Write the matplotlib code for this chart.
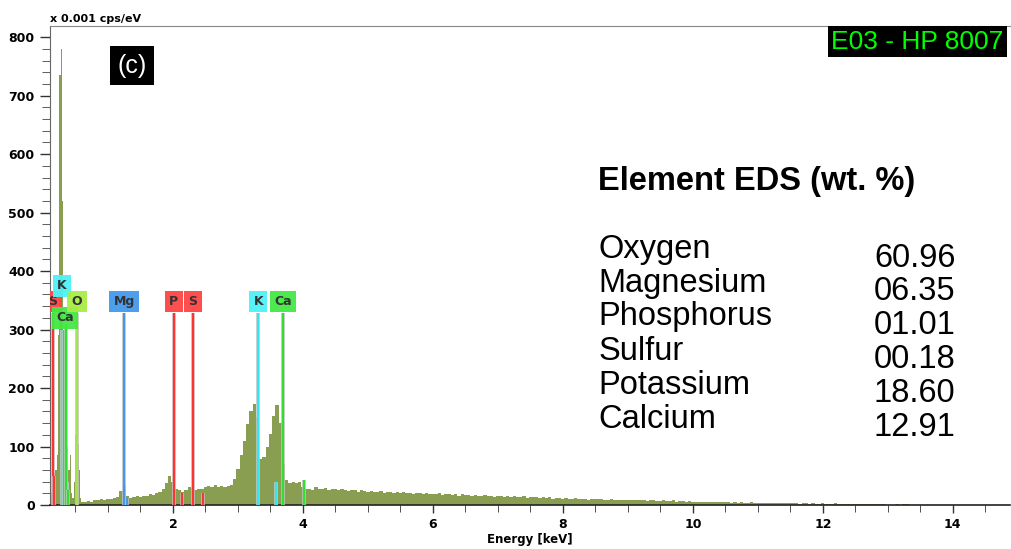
import numpy as np
import matplotlib
matplotlib.use("Agg")
import matplotlib.pyplot as plt
import matplotlib.patheffects as pe

# spectrum below 0.6 keV (0.02 keV channels)
low_energy = [0.10, 0.12, 0.14, 0.16, 0.18, 0.20, 0.22, 0.24, 0.26, 0.28,
              0.30, 0.32, 0.34, 0.36, 0.38, 0.40, 0.42, 0.44, 0.46, 0.48,
              0.50, 0.52, 0.54, 0.56, 0.58]
low_counts = [330, 330, 20, 50, 55, 60, 85, 290, 735, 780,
              520, 300, 200, 165, 100, 60, 85, 20, 12, 40,
              120, 154, 105, 60, 12]

# spectrum from 0.60 keV to 13.50 keV, 0.05 keV channels
main_start = 0.60
main_step = 0.05
main_counts = [
    5, 6, 7, 6, 9, 8, 10, 9, 11,
    10, 12, 13, 24, 34, 16, 12, 13, 15, 14,
    16, 15, 18, 17, 20, 22, 28, 38, 50, 40,
    27, 25, 23, 26, 30, 29, 25, 27, 28, 30,
    32, 30, 34, 31, 33, 30, 32, 35, 44, 62,
    85, 110, 138, 160, 172, 150, 78, 82, 100, 122,
    152, 171, 140, 70, 42, 38, 40, 37, 39, 30,
    28, 27, 26, 30, 28, 27, 29, 26, 28, 27,
    25, 27, 26, 24, 26, 25, 23, 25, 24, 22,
    24, 23, 22, 24, 21, 23, 22, 20, 22, 21,
    22, 20, 21, 19, 21, 20, 19, 20, 18, 19,
    18, 20, 17, 19, 18, 17, 19, 16, 18, 17,
    17, 15, 17, 16, 15, 17, 15, 16, 14, 16,
    15, 14, 16, 13, 15, 14, 13, 15, 12, 14,
    13, 14, 12, 13, 12, 13, 11, 12, 12, 11,
    12, 10, 11, 12, 10, 11, 10, 9, 11, 10,
    10, 11, 9, 9, 10, 9, 8, 9, 9, 8,
    9, 8, 8, 9, 8, 7, 8, 8, 7, 7,
    8, 7, 7, 8, 6, 7, 7, 6, 7, 6,
    6, 6, 5, 6, 5, 6, 5, 5, 6, 5,
    5, 4, 5, 4, 5, 4, 4, 5, 4, 4,
    4, 3, 4, 4, 3, 4, 3, 3, 4, 3,
    3, 3, 2, 3, 3, 2, 3, 2, 2, 3,
    2, 2, 2, 3, 2, 2, 2, 1, 2, 2,
    2, 1, 1, 2, 1, 1, 1, 1, 1, 0,
    0, 0, 1, 0, 1, 1, 0, 0, 0, 0,
]

# element marker lines: energy (keV), height, colour
line_energy = [0.149, 0.17, 0.29, 0.37, 0.33, 0.35, 0.39, 0.525,
               1.253, 1.30, 2.013, 2.139, 2.307, 2.464,
               3.312, 3.59, 3.69, 4.012]
line_height = [328, 50, 300, 40, 300, 310, 25, 328,
               328, 12, 328, 20, 328, 20,
               328, 40, 328, 43]
line_color = ['#ff3333', '#ff3333', '#33e6f2', '#33e6f2', '#33dd33', '#33dd33', '#33dd33', '#a6e34d',
              '#4a96e6', '#4a96e6', '#ff3333', '#ff3333', '#ff3333', '#ff3333',
              '#33e6f2', '#33e6f2', '#33dd33', '#33dd33']

# element label boxes
label_text = ['S', 'K', 'Ca', 'O', 'Mg', 'P', 'S', 'K', 'Ca']
label_energy = [0.149, 0.29, 0.341, 0.525, 1.253, 2.013, 2.307, 3.312, 3.69]
label_level = [348, 375, 320, 348, 348, 348, 348, 348, 348]
label_color = ['#ff4444', '#4df2f7', '#44e844', '#a8ec45', '#4499ee',
               '#ff4444', '#ff4444', '#4df2f7', '#44e844']

elements = ['Oxygen', 'Magnesium', 'Phosphorus', 'Sulfur', 'Potassium', 'Calcium']
wt_percent = ['60.96', '06.35', '01.01', '00.18', '18.60', '12.91']

counts = np.concatenate([low_counts, main_counts])
centers = np.concatenate([low_energy, main_start + main_step * np.arange(len(main_counts))])
# channel edges halfway between centres
mid = (centers[:-1] + centers[1:]) / 2
edges = np.concatenate([[centers[0] - 0.01], mid, [centers[-1] + main_step / 2]])

fig = plt.figure(figsize=(10.12, 5.49), dpi=100)
ax = fig.add_axes([0.0494, 0.0801, 0.9486, 0.8725])

ax.stairs(counts, edges, fill=True, color='#8a9e52', linewidth=0,
          antialiased=False, zorder=2)

for e, h, c in zip(line_energy, line_height, line_color):
    ax.vlines(e, 0, h, colors=c, linewidth=1.6, zorder=3,
              path_effects=[pe.Stroke(linewidth=2.6, foreground='#c8c8c8'), pe.Normal()])

for t, e, lv, c in zip(label_text, label_energy, label_level, label_color):
    ax.text(e, lv, t, ha='center', va='center', fontsize=9, fontweight='bold',
            color='#333333', zorder=5, clip_on=True,
            bbox=dict(boxstyle='square,pad=0.35', fc=c, ec='none', alpha=0.95))

ax.set_xlim(0.108, 14.88)
ax.set_ylim(0, 819)

ax.set_xticks(np.arange(2, 15, 2))
ax.set_xticks(np.arange(0.5, 15, 0.5), minor=True)
ax.set_yticks(np.arange(0, 801, 100))
ax.set_yticks(np.arange(0, 819, 20), minor=True)
ax.tick_params(axis='both', which='major', labelsize=9, width=1, color='#333333')
ax.tick_params(axis='x', which='major', length=6, pad=3)
ax.tick_params(axis='x', which='minor', length=5, color='#333333')
ax.tick_params(axis='y', which='major', length=7, pad=4)
ax.tick_params(axis='y', which='minor', length=6, color='#444444')
for lab in ax.get_xticklabels() + ax.get_yticklabels():
    lab.set_fontweight('bold')

ax.spines['right'].set_visible(False)
ax.spines['top'].set_color('#888888')
ax.spines['left'].set_color('#666666')
ax.spines['bottom'].set_color('#222222')
ax.spines['bottom'].set_linewidth(1.2)

ax.set_xlabel('Energy [keV]', fontsize=8.5, fontweight='bold', labelpad=2)
fig.text(0.049, 0.966, 'x 0.001 cps/eV', fontsize=8, fontweight='bold', ha='left', va='center')

# panel tags
fig.text(0.1304, 0.880, '(c)', fontsize=18, color='white', ha='center', va='center',
         family='Liberation Sans',
         bbox=dict(boxstyle='square,pad=0.3', fc='black', ec='none'))
fig.text(0.9066, 0.9244, 'E03 - HP 8007', fontsize=19, color='#00ff00', ha='center', va='center',
         family='Liberation Sans',
         bbox=dict(boxstyle='square,pad=0.12', fc='black', ec='none'))

# composition table
fig.text(0.591, 0.670, 'Element EDS (wt. %)', fontsize=23.5, fontweight='bold',
         family='Liberation Sans', ha='left', va='center')
for i, (name, val) in enumerate(zip(elements, wt_percent)):
    fig.text(0.591, 1 - (249 + 34 * i) / 549, name, fontsize=23.5,
             family='Liberation Sans', ha='left', va='center')
    fig.text(0.944, 1 - (258 + 34 * i) / 549, val, fontsize=23.5,
             family='Liberation Sans', ha='right', va='center')

fig.savefig('out.png', dpi=100)
